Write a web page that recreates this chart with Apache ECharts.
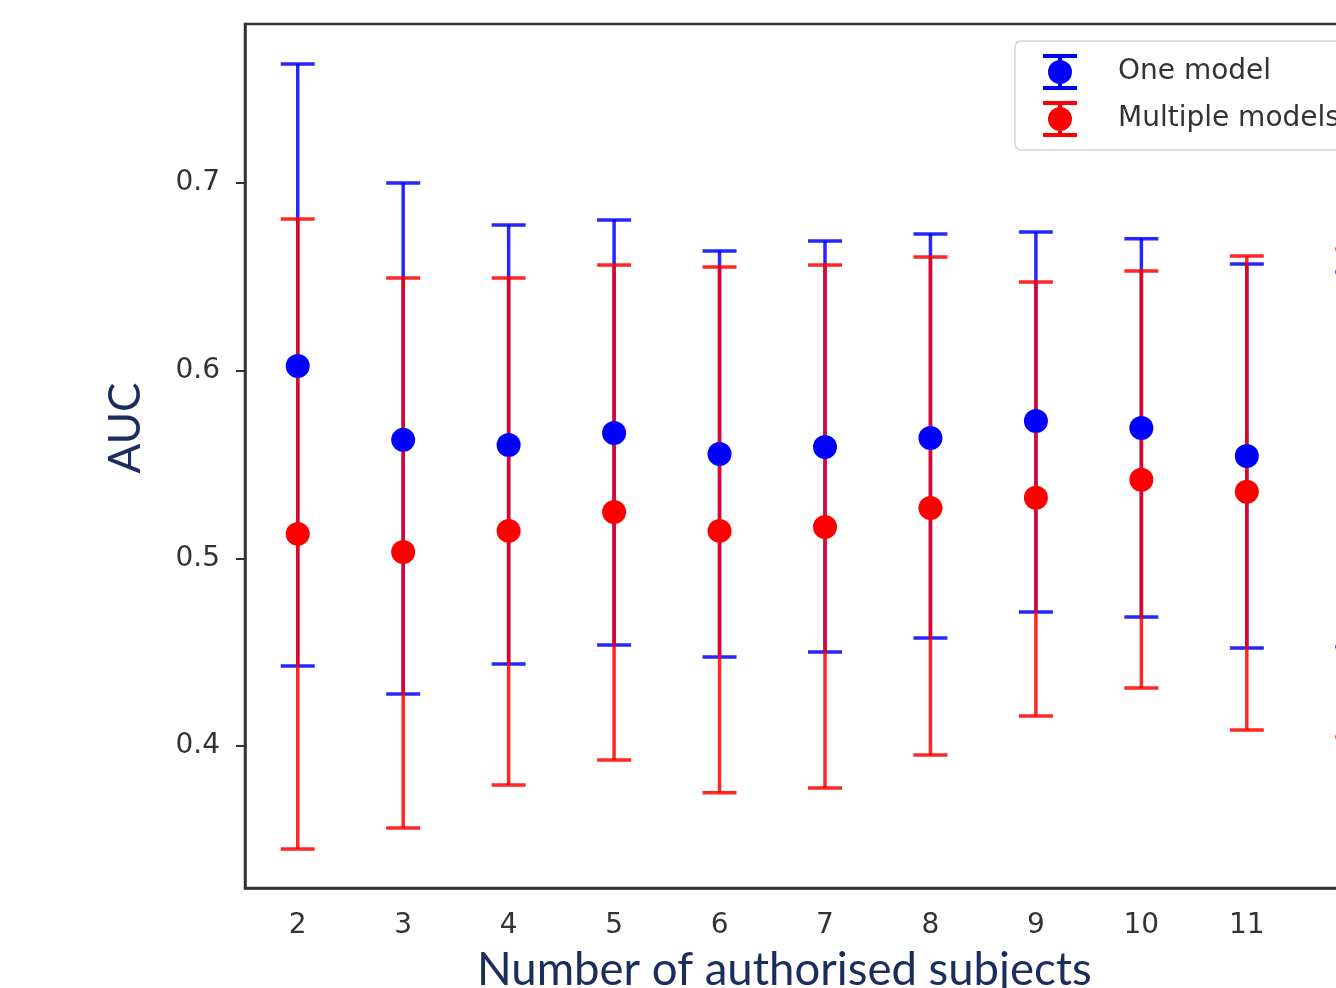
<!DOCTYPE html>
<html>
<head>
<meta charset="utf-8">
<script src="https://cdn.jsdelivr.net/npm/echarts@6/dist/echarts.min.js"></script>
<style>html,body{margin:0;padding:0;background:#fff;}#c{width:1336px;height:988px;}</style>
</head>
<body>
<div id="c"></div>
<script>
const categories = ['2','3','4','5','6','7','8','9','10','11','12'];
const yTicks = [0.4, 0.5, 0.6, 0.7];
const oneMean  = [0.6025,0.5631,0.5604,0.5668,0.5556,0.5593,0.5641,0.5732,0.5694,0.5545,0.5527];
const oneHigh  = [0.7634,0.7000,0.6776,0.6803,0.6638,0.6691,0.6728,0.6739,0.6702,0.6568,0.6526];
const oneLow   = [0.4426,0.4277,0.4437,0.4538,0.4474,0.4501,0.4575,0.4714,0.4687,0.4522,0.4528];
const multiMean = [0.5130,0.5034,0.5146,0.5247,0.5146,0.5167,0.5268,0.5322,0.5418,0.5354,0.5350];
const multiHigh = [0.6808,0.6494,0.6494,0.6563,0.6552,0.6563,0.6606,0.6472,0.6531,0.6611,0.6648];
const multiLow  = [0.3451,0.3563,0.3792,0.3925,0.3750,0.3776,0.3952,0.4160,0.4309,0.4085,0.4048];

const BLUE = '#0000ff', RED = '#ff0000';
const icon = 'path://M1 0H35V4H1Z M16 0H20V36H16Z M1 32H35V36H1Z M18 6A12 12 0 1 1 17.99 6Z';

function errSeries(name, low, high, color, z) {
  return {
    name: name, type: 'custom', z: z, silent: true,
    data: categories.map((c, i) => [i, low[i], high[i]]),
    renderItem: function (params, api) {
      const x = api.value(0);
      const lo = api.coord([x, api.value(1)]);
      const hi = api.coord([x, api.value(2)]);
      const w = 17;
      const style = { stroke: color, lineWidth: 3.5, opacity: 0.85 };
      return { type: 'group', children: [
        { type: 'line', shape: { x1: lo[0], y1: lo[1], x2: hi[0], y2: hi[1] }, style: style },
        { type: 'line', shape: { x1: hi[0]-w, y1: hi[1], x2: hi[0]+w, y2: hi[1] }, style: style },
        { type: 'line', shape: { x1: lo[0]-w, y1: lo[1], x2: lo[0]+w, y2: lo[1] }, style: style }
      ]};
    }
  };
}

const chart = echarts.init(document.getElementById('c'));
chart.setOption({
  animation: false,
  backgroundColor: '#fff',
  grid: { left: 245, top: 24, width: 1160, height: 864, containLabel: false, outerBoundsMode: 'none',
    show: true, borderColor: '#333', borderWidth: 2.5, backgroundColor: 'transparent' },
  legend: {
    orient: 'vertical', left: 1015, top: 41,
    data: [{ name: 'One model', icon: icon }, { name: 'Multiple models', icon: icon }],
    itemWidth: 36, itemHeight: 36, itemGap: 11,
    padding: [13, 40, 13, 28],
    borderColor: '#d4d4d4', borderWidth: 1.5, borderRadius: 6,
    backgroundColor: 'rgba(255,255,255,0.8)',
    textStyle: { fontFamily: 'DejaVu Sans', fontSize: 28, color: '#333', padding: [0, 0, 0, 35] }
  },
  xAxis: {
    type: 'category', data: categories, boundaryGap: true,
    axisLine: { lineStyle: { color: '#333', width: 2.5 } },
    axisTick: { alignWithLabel: true, length: 9, lineStyle: { color: '#333', width: 2 } },
    axisLabel: { fontFamily: 'DejaVu Sans', fontSize: 28, color: '#333', margin: 24, interval: 0 },
    splitLine: { show: false }
  },
  yAxis: {
    type: 'value', min: 0.3243, max: 0.7847,
    axisLine: { show: true, lineStyle: { color: '#333', width: 2.5 } },
    axisTick: { show: true, customValues: yTicks, length: 9, lineStyle: { color: '#333', width: 2 } },
    axisLabel: { customValues: yTicks, fontFamily: 'DejaVu Sans', fontSize: 28, color: '#333', margin: 25,
      formatter: v => v.toFixed(1) },
    splitLine: { show: false }
  },
  graphic: [
    { type: 'text', left: 477, top: 947, z: 10,
      style: { text: 'Number of authorised subjects', fontFamily: 'Lato', fontSize: 45.5, fill: '#1b2d5f' } },
    { type: 'text', x: 126, y: 428, rotation: Math.PI / 2, z: 10,
      style: { text: 'AUC', fontFamily: 'Lato', fontSize: 44, fill: '#1b2d5f', align: 'center', verticalAlign: 'middle' } }
  ],
  series: [
    errSeries('oneErr', oneLow, oneHigh, BLUE, 2),
    errSeries('multiErr', multiLow, multiHigh, RED, 3),
    { name: 'One model', type: 'scatter', z: 4, symbol: 'circle', symbolSize: 24,
      itemStyle: { color: BLUE, opacity: 1 }, data: oneMean },
    { name: 'Multiple models', type: 'scatter', z: 5, symbol: 'circle', symbolSize: 24,
      itemStyle: { color: RED, opacity: 1 }, data: multiMean }
  ]
});
</script>
</body>
</html>
